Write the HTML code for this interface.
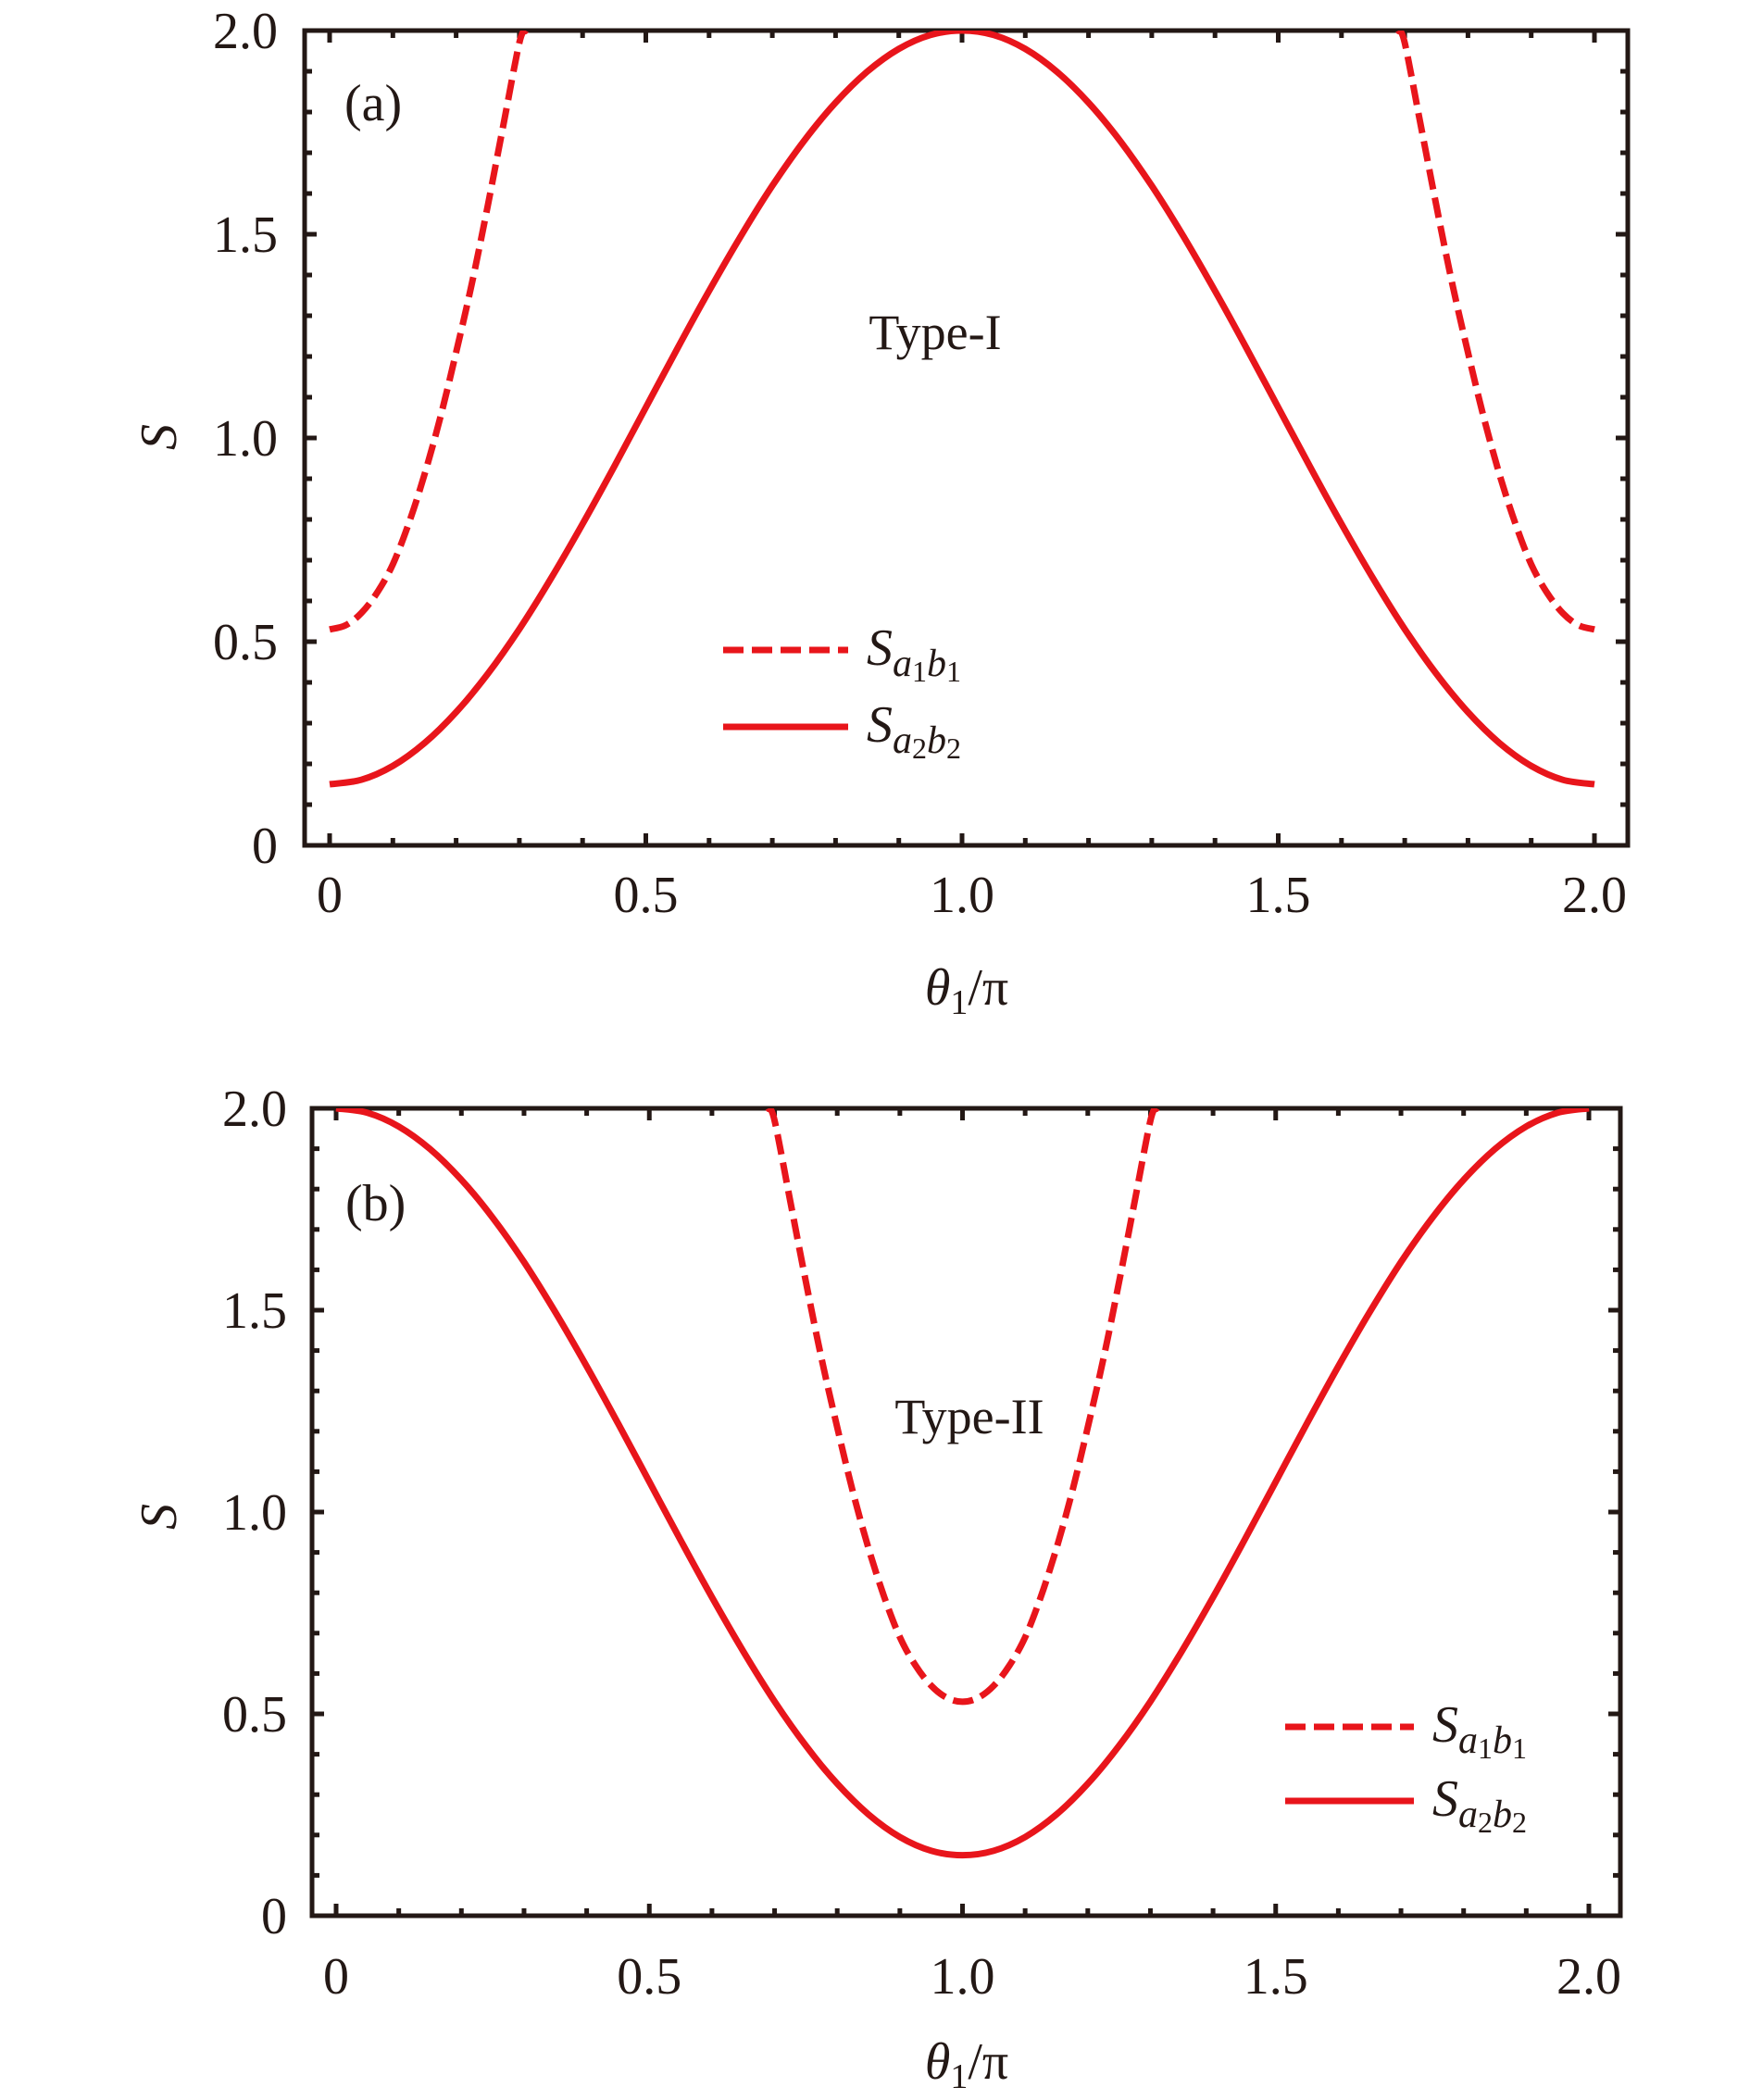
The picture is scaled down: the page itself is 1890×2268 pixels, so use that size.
<!DOCTYPE html>
<html><head><meta charset="utf-8">
<style>
html,body{margin:0;padding:0;background:#fff;}
svg{display:block;}
text{font-family:"Liberation Serif","DejaVu Serif",serif;fill:#231815;}
</style></head>
<body>
<svg id="chart" width="1890" height="2268" viewBox="0 0 1890 2268" xmlns="http://www.w3.org/2000/svg"></svg>
<script>
// ---- data ----
const xsSolid = [0,0.05,0.1,0.15,0.2,0.25,0.3,0.35,0.4,0.45,0.5,0.55,0.6,0.65,0.7,0.75,0.8,0.85,0.9,0.95,1.0,1.05,1.1,1.15,1.2,1.25,1.3,1.35,1.4,1.45,1.5,1.55,1.6,1.65,1.7,1.75,1.8,1.85,1.9,1.95,2.0];
const solidA = [0.15,0.161,0.195,0.251,0.327,0.421,0.531,0.655,0.789,0.930,1.075,1.220,1.361,1.495,1.619,1.729,1.823,1.899,1.955,1.989,2.0,1.989,1.955,1.899,1.823,1.729,1.619,1.495,1.361,1.220,1.075,0.930,0.789,0.655,0.531,0.421,0.327,0.251,0.195,0.161,0.15];
const solidB = [2.0,1.989,1.955,1.899,1.823,1.729,1.619,1.495,1.361,1.220,1.075,0.930,0.789,0.655,0.531,0.421,0.327,0.251,0.195,0.161,0.15,0.161,0.195,0.251,0.327,0.421,0.531,0.655,0.789,0.930,1.075,1.220,1.361,1.495,1.619,1.729,1.823,1.899,1.955,1.989,2.0];
const xsDashA1 = [0,0.025,0.05,0.075,0.1,0.125,0.15,0.175,0.2,0.225,0.25,0.275,0.3,0.31];
const dashA1   = [0.53,0.54,0.57,0.62,0.69,0.79,0.91,1.05,1.21,1.38,1.57,1.77,1.97,2.0];
const xsDashA2 = [1.69,1.7,1.725,1.75,1.775,1.8,1.825,1.85,1.875,1.9,1.925,1.95,1.975,2.0];
const dashA2   = [2.0,1.97,1.77,1.57,1.38,1.21,1.05,0.91,0.79,0.69,0.62,0.57,0.54,0.53];
const xsDashB = [0.69,0.7,0.725,0.75,0.775,0.8,0.825,0.85,0.875,0.9,0.925,0.95,0.975,1.0,1.025,1.05,1.075,1.1,1.125,1.15,1.175,1.2,1.225,1.25,1.275,1.3,1.31];
const dashB   = [2.0,1.97,1.77,1.57,1.38,1.21,1.05,0.91,0.79,0.69,0.62,0.57,0.54,0.53,0.54,0.57,0.62,0.69,0.79,0.91,1.05,1.21,1.38,1.57,1.77,1.97,2.0];
const xTickVals = [0,0.5,1.0,1.5,2.0];
const xTickLabels = ["0","0.5","1.0","1.5","2.0"];
const yTickVals = [0,0.5,1.0,1.5,2.0];
const yTickLabels = ["0","0.5","1.0","1.5","2.0"];

const NS="http://www.w3.org/2000/svg";
const svg=document.getElementById('chart');
const RED="#e8151b", INK="#231815";
function el(tag,attrs,parent){const e=document.createElementNS(NS,tag);for(const k in attrs)e.setAttribute(k,attrs[k]);(parent||svg).appendChild(e);return e;}

function smoothPath(pts){
  let d='M'+pts[0][0].toFixed(1)+','+pts[0][1].toFixed(1);
  for(let i=0;i<pts.length-1;i++){
    const p0=pts[Math.max(0,i-1)],p1=pts[i],p2=pts[i+1],p3=pts[Math.min(pts.length-1,i+2)];
    const c1x=p1[0]+(p2[0]-p0[0])/6,c1y=p1[1]+(p2[1]-p0[1])/6;
    const c2x=p2[0]-(p3[0]-p1[0])/6,c2y=p2[1]-(p3[1]-p1[1])/6;
    d+='C'+c1x.toFixed(1)+','+c1y.toFixed(1)+' '+c2x.toFixed(1)+','+c2y.toFixed(1)+' '+p2[0].toFixed(1)+','+p2[1].toFixed(1);
  }
  return d;
}

function panel(p){
  const g=el('g',{});
  
  
  const sx=v=>p.x0+(v-0)*(p.x2-p.x0)/2;
  const sy=v=>p.y0-(v)*(p.y0-p.y2)/2;
  const cid='clip'+p.name;
  const cp=el('clipPath',{id:cid},g);
  el('rect',{x:p.left,y:p.top,width:p.right-p.left,height:p.bottom-p.top},cp);
  for(let i=0;i<=20;i++){
    const v=i*0.1, X=sx(v), big=i%5===0, L=big?13:8;
    let t=el('line',{x1:X,y1:p.bottom,x2:X,y2:p.bottom-L,stroke:INK,'stroke-width':5},g);
    
    t=el('line',{x1:X,y1:p.top,x2:X,y2:p.top+L,stroke:INK,'stroke-width':5},g);
    
    const Y=sy(v);
    t=el('line',{x1:p.left,y1:Y,x2:p.left+L,y2:Y,stroke:INK,'stroke-width':5},g);
    
    t=el('line',{x1:p.right,y1:Y,x2:p.right-L,y2:Y,stroke:INK,'stroke-width':5},g);
    
  }
  const fr=el('rect',{x:p.left,y:p.top,width:p.right-p.left,height:p.bottom-p.top,fill:'none',stroke:INK,'stroke-width':5},g);
  
  xTickVals.forEach((v,i)=>{const t=el('text',{x:sx(v),y:p.xlabY,'font-size':56,'text-anchor':'middle'},g);t.textContent=xTickLabels[i];
    });
  yTickVals.forEach((v,i)=>{const t=el('text',{x:p.ylabX,y:sy(v)+19,'font-size':56,'text-anchor':'end'},g);t.textContent=yTickLabels[i];
    });
  function path(xs,ys,dash,name){
    const d=smoothPath(xs.map((x,i)=>[sx(x),sy(ys[i])]));
    const a={d:d,fill:'none',stroke:RED,'stroke-width':7,'stroke-linejoin':'round','clip-path':'url(#'+cid+')'};
    if(dash)a['stroke-dasharray']='22,9';
    const e=el('path',a,g);
    
  }
  p.series.forEach(s=>path(s[0],s[1],s[2],s[3]));
  let t=el('text',{x:p.tagX,y:p.tagY,'font-size':56},g);t.textContent=p.tag;
  
  t=el('text',{x:p.typeX,y:p.typeY,'font-size':54,'text-anchor':'middle'},g);t.textContent=p.type;
  
  t=el('text',{x:0,y:0,'font-size':56,'font-style':'italic','text-anchor':'middle',transform:`translate(${p.yTitleX},${p.yTitleY}) rotate(-90)`},g);t.textContent='S';
  
  t=el('text',{x:p.xTitleX,y:p.xTitleY,'font-size':56,'text-anchor':'middle'},g);
  t.innerHTML='<tspan font-style="italic">θ</tspan><tspan font-size="38" dy="10">1</tspan><tspan dy="-10">/π</tspan>';
  
  const lg=el('g',{},g);
  
  [[p.legY1,true,'1'],[p.legY2,false,'2']].forEach(([y,dash,n])=>{
    const a={x1:p.legX1,y1:y,x2:p.legX2,y2:y,stroke:RED,'stroke-width':7};
    if(dash)a['stroke-dasharray']='22,9';
    const l=el('line',a,lg);
    
    const tt=el('text',{x:p.legX2+20,y:y+16,'font-size':56,'font-style':'italic'},lg);
    tt.innerHTML=`S<tspan font-size="42" dy="12">a</tspan><tspan font-size="32" dy="6" font-style="normal">${n}</tspan><tspan font-size="42" dy="-6">b</tspan><tspan font-size="32" dy="6" font-style="normal">${n}</tspan>`;
    
  });
}

panel({name:'panel-a',left:329,right:1758,top:33,bottom:913,x0:356,x2:1722,y0:913,y2:33,
  xlabY:985,ylabX:300,tag:'(a)',tagX:372,tagY:130,type:'Type-I',typeX:1010,typeY:377,
  yTitleX:190,yTitleY:472,xTitleX:1044,xTitleY:1085,
  legX1:781,legX2:916,legY1:702,legY2:785,
  series:[[xsDashA1,dashA1,true,'series-sa1b1-left'],[xsDashA2,dashA2,true,'series-sa1b1-right'],[xsSolid,solidA,false,'series-sa2b2']]});
panel({name:'panel-b',left:337,right:1750,top:1197,bottom:2069,x0:363,x2:1716,y0:2069,y2:1197,
  xlabY:2153,ylabX:310,tag:'(b)',tagX:373,tagY:1318,type:'Type-II',typeX:1047,typeY:1548,
  yTitleX:190,yTitleY:1638,xTitleX:1044,xTitleY:2245,
  legX1:1388,legX2:1527,legY1:1865,legY2:1945,
  series:[[xsDashB,dashB,true,'series-sa1b1'],[xsSolid,solidB,false,'series-sa2b2']]});
</script>
</body></html>
